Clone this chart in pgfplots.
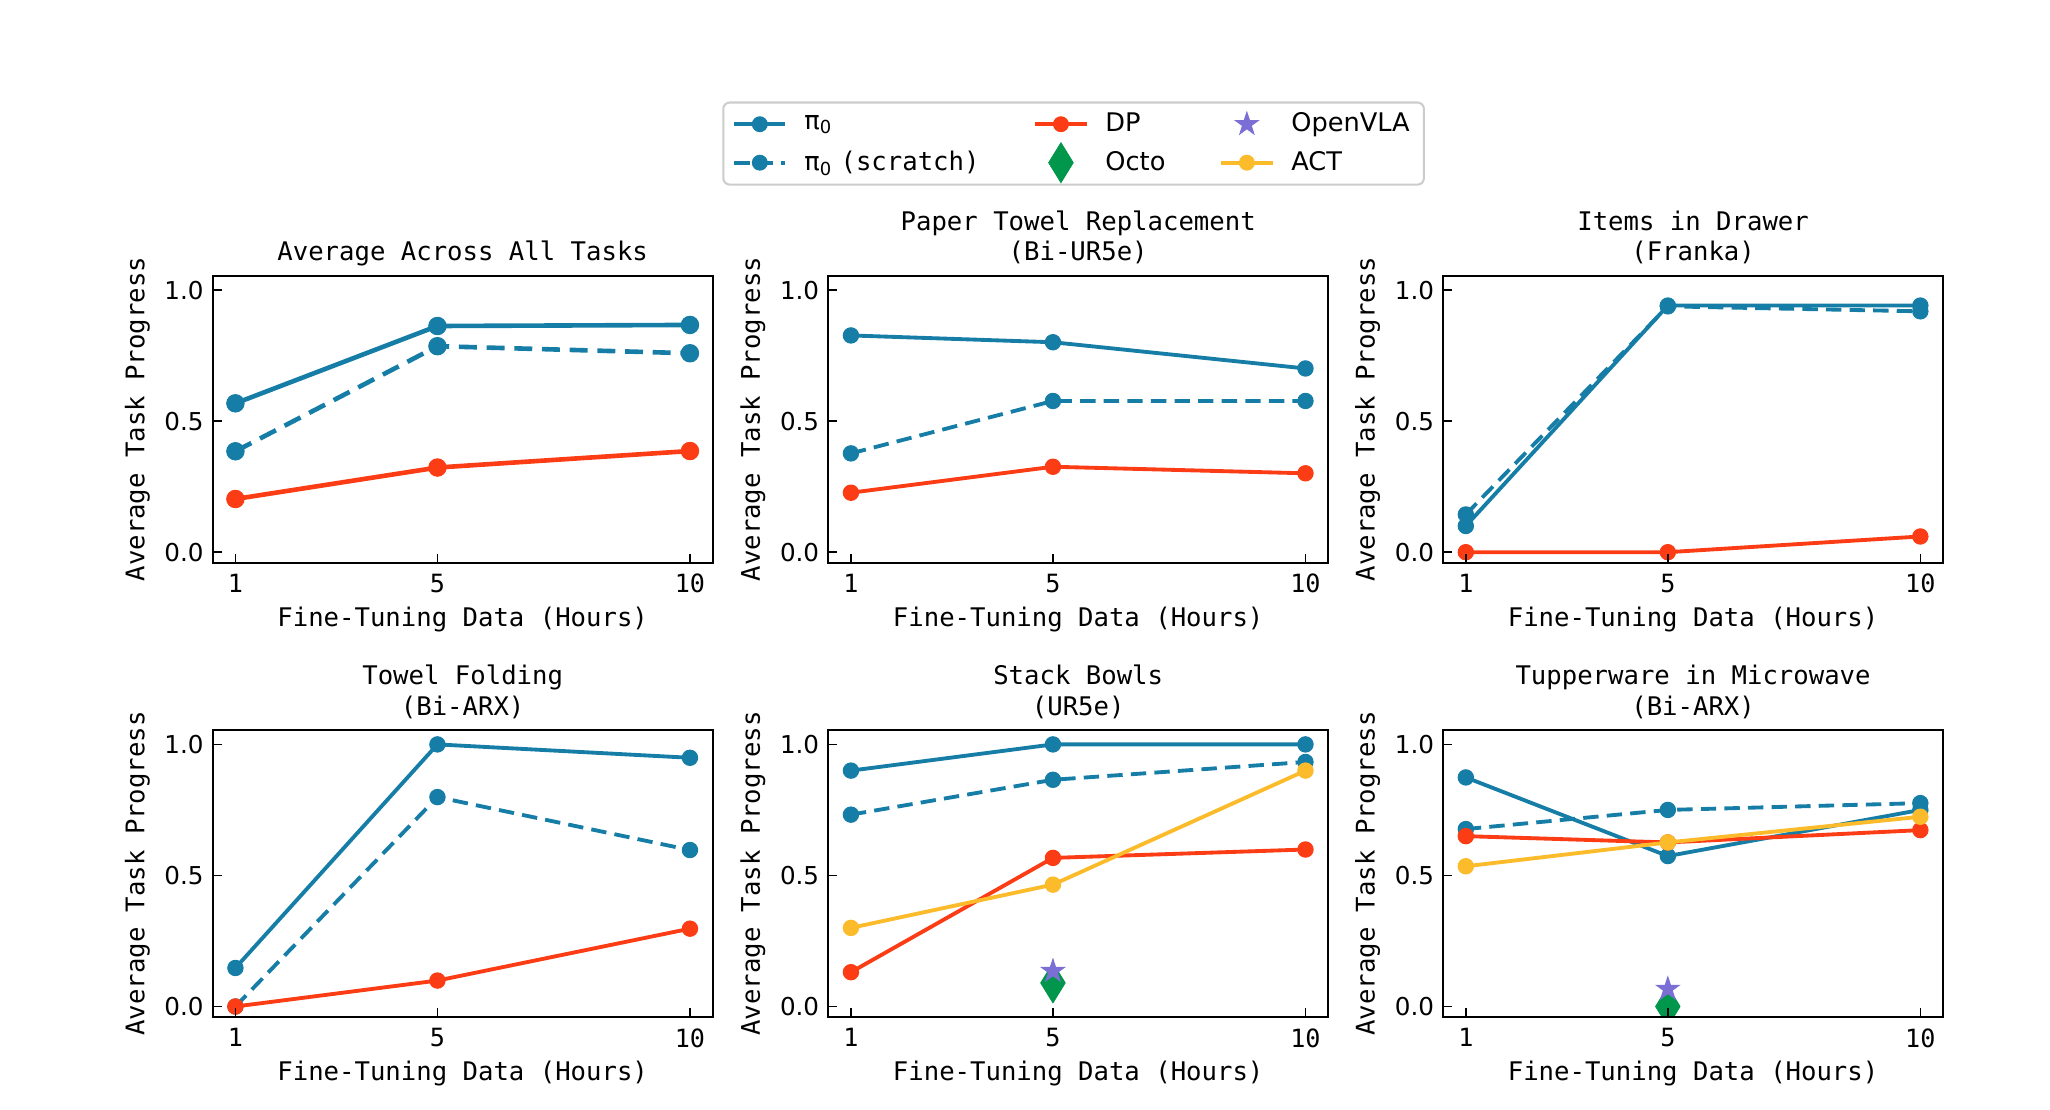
\documentclass[border=0pt]{standalone}
\usepackage{fontspec}
\setmainfont{DejaVu Sans}
\setmonofont{DejaVu Sans Mono}
\usepackage{pgfplots}
\pgfplotsset{compat=1.18}
\definecolor{cpi}{HTML}{167EA6}
\definecolor{cdp}{HTML}{FB3C14}
\definecolor{cact}{HTML}{FBBB2B}
\definecolor{cvla}{HTML}{7B6FD6}
\definecolor{cocto}{HTML}{00964B}
\newcommand\lbl{\ttfamily\fontsize{10}{12}\selectfont}
\pgfdeclareplotmark{fstar}{%
  \pgfpathmoveto{\pgfpointpolar{90}{\pgfplotmarksize}}%
  \pgfpathlineto{\pgfpointpolar{126}{0.382\pgfplotmarksize}}%
  \pgfpathlineto{\pgfpointpolar{162}{\pgfplotmarksize}}%
  \pgfpathlineto{\pgfpointpolar{198}{0.382\pgfplotmarksize}}%
  \pgfpathlineto{\pgfpointpolar{234}{\pgfplotmarksize}}%
  \pgfpathlineto{\pgfpointpolar{270}{0.382\pgfplotmarksize}}%
  \pgfpathlineto{\pgfpointpolar{306}{\pgfplotmarksize}}%
  \pgfpathlineto{\pgfpointpolar{342}{0.382\pgfplotmarksize}}%
  \pgfpathlineto{\pgfpointpolar{18}{\pgfplotmarksize}}%
  \pgfpathlineto{\pgfpointpolar{54}{0.382\pgfplotmarksize}}%
  \pgfpathclose
  \pgfusepathqfill
}
\def\lw{1.5pt}\def\ms{3.0pt}\def\don{6pt}\def\doff{3.2pt}
\pgfplotsset{
  panel/.style={
    scale only axis, width=195pt, height=111.93pt,
    xmin=0.55, xmax=10.45, ymin=-0.04, ymax=1.055,
    xtick={1,5,10}, xticklabels={1,5,10},
    ytick={0,0.5,1}, yticklabels={0.0,0.5,1.0},
    tick align=inside, tick pos=left, major tick length=3.5pt,
    minor tick num=0,
    axis on top, clip marker paths=true,
    axis line style={line width=0.65pt},
    every tick/.style={black, line width=0.65pt},
    x tick label style={font=\ttfamily\fontsize{9.8}{11}\selectfont, yshift=-1pt},
    y tick label style={font=\fontsize{9.6}{11}\selectfont},
    xlabel={Fine-Tuning Data (Hours)}, ylabel={Average Task Progress},
    every axis x label/.style={at={(axis description cs:0.5,0)}, anchor=center, yshift=-22.2pt, font=\lbl},
    every axis y label/.style={at={(axis description cs:-0.1508,0.5)}, anchor=center, rotate=90, font=\lbl},
    every axis title/.style={at={(axis description cs:0.5,1)}, anchor=base, yshift=5.8pt, font=\lbl, align=center},
    every axis plot/.append style={line join=round},
  },
  pi/.style={color=cpi, solid, line width=\lw, mark=*, mark size=\ms, mark options={solid, line width=0.4pt}},
  pis/.style={color=cpi, dash pattern=on \don off \doff, line width=\lw, mark=*, mark size=\ms, mark options={solid, line width=0.4pt}},
  dp/.style={color=cdp, solid, line width=\lw, mark=*, mark size=\ms, mark options={solid, line width=0.4pt}},
  act/.style={color=cact, solid, line width=\lw, mark=*, mark size=\ms, mark options={solid, line width=0.4pt}},
  octo/.style={color=cocto, only marks, mark=diamond*, mark size=7.8pt, mark options={solid, sharp corners, xscale=0.82, line width=0.3pt}},
  vla/.style={color=cvla, only marks, mark=fstar, mark size=5.3pt, mark options={solid, sharp corners}},
  ovimg/.style={legend image code/.code={\draw[overlay,mark repeat=2,mark phase=2,##1] plot coordinates {(0pt,0pt)(10pt,0pt)(20pt,0pt)};}},
}
\begin{document}
\begin{tikzpicture}
\path[use as bounding box] (0,0) rectangle (799.5pt,432.9pt);

% legend
\begin{axis}[at={(418.7pt,376.9pt)}, anchor=center, scale only axis, width=20pt, height=10pt,
  hide axis, xmin=0, xmax=1, ymin=0, ymax=1,
  legend columns=3, legend cell align=left,
  legend image code/.code={\draw[mark repeat=2,mark phase=2,#1] plot coordinates {(0pt,0pt)(10pt,0pt)(20pt,0pt)};},
  legend style={at={(0.5,0.5)}, anchor=center, draw=black!20, line width=0.8pt, rounded corners=2.5pt,
    inner xsep=3.5pt, inner ysep=2pt, font=\fontsize{10}{12}\selectfont, row sep=2pt,
    /tikz/every odd column/.append style={column sep=4.6pt},
    /tikz/every even column/.append style={column sep=19pt}},
]
\addlegendimage{pi, line width=1.5pt, mark size=2.9pt}
\addlegendentry{π\textsubscript{0}}
\addlegendimage{dp, line width=1.5pt, mark size=2.9pt}
\addlegendentry{DP}
\addlegendimage{vla}
\addlegendentry{OpenVLA}
\addlegendimage{pis, line width=1.5pt, mark size=2.9pt}
\addlegendentry{π\textsubscript{0} {\ttfamily(scratch)}}
\addlegendimage{octo, ovimg}
\addlegendentry{Octo}
\addlegendimage{act, line width=1.5pt, mark size=2.9pt}
\addlegendentry{ACT}
\end{axis}

% Panel 1
\def\lw{1.8pt}\def\ms{3.4pt}\def\don{7pt}\def\doff{3.8pt}
\begin{axis}[panel, at={(82.95pt,213.45pt)}, anchor=south west, title={Average Across All Tasks}]
\addplot[pi] coordinates {(1,0.568) (5,0.863) (10,0.867)};
\addplot[pis] coordinates {(1,0.385) (5,0.786) (10,0.759)};
\addplot[dp] coordinates {(1,0.203) (5,0.323) (10,0.386)};
\end{axis}
\def\lw{1.5pt}\def\ms{3.0pt}\def\don{6pt}\def\doff{3.2pt}

% Panel 2
\begin{axis}[panel, at={(323.0pt,213.45pt)}, anchor=south west, title={Paper Towel Replacement\\(Bi-UR5e)}]
\addplot[pi] coordinates {(1,0.827) (5,0.801) (10,0.701)};
\addplot[pis] coordinates {(1,0.377) (5,0.577) (10,0.577)};
\addplot[dp] coordinates {(1,0.227) (5,0.326) (10,0.301)};
\end{axis}

% Panel 3
\begin{axis}[panel, at={(562.8pt,213.45pt)}, anchor=south west, title={Items in Drawer\\(Franka)}]
\addplot[pi] coordinates {(1,0.100) (5,0.941) (10,0.941)};
\addplot[pis] coordinates {(1,0.144) (5,0.938) (10,0.919)};
\addplot[dp] coordinates {(1,0.0) (5,0.0) (10,0.060)};
\end{axis}

% Panel 4
\begin{axis}[panel, at={(82.95pt,36.27pt)}, anchor=south west, title={Towel Folding\\(Bi-ARX)}]
\addplot[pi] coordinates {(1,0.147) (5,1.0) (10,0.949)};
\addplot[pis] coordinates {(1,0.0) (5,0.799) (10,0.597)};
\addplot[dp] coordinates {(1,0.0) (5,0.099) (10,0.297)};
\end{axis}

% Panel 5
\begin{axis}[panel, at={(323.0pt,36.27pt)}, anchor=south west, title={Stack Bowls\\(UR5e)}]
\addplot[pi] coordinates {(1,0.900) (5,1.0) (10,1.0)};
\addplot[pis] coordinates {(1,0.732) (5,0.865) (10,0.933)};
\addplot[dp] coordinates {(1,0.131) (5,0.567) (10,0.599)};
\addplot[octo] coordinates {(5,0.09)};
\addplot[vla] coordinates {(5,0.135)};
\addplot[act] coordinates {(1,0.300) (5,0.465) (10,0.900)};
\end{axis}

% Panel 6
\begin{axis}[panel, at={(562.8pt,36.27pt)}, anchor=south west, title={Tupperware in Microwave\\(Bi-ARX)}]
\addplot[pi] coordinates {(1,0.874) (5,0.574) (10,0.750)};
\addplot[pis] coordinates {(1,0.677) (5,0.750) (10,0.776)};
\addplot[dp] coordinates {(1,0.650) (5,0.626) (10,0.673)};
\addplot[octo] coordinates {(5,0.0)};
\addplot[vla] coordinates {(5,0.067)};
\addplot[act] coordinates {(1,0.535) (5,0.626) (10,0.724)};
\end{axis}
\end{tikzpicture}
\end{document}
